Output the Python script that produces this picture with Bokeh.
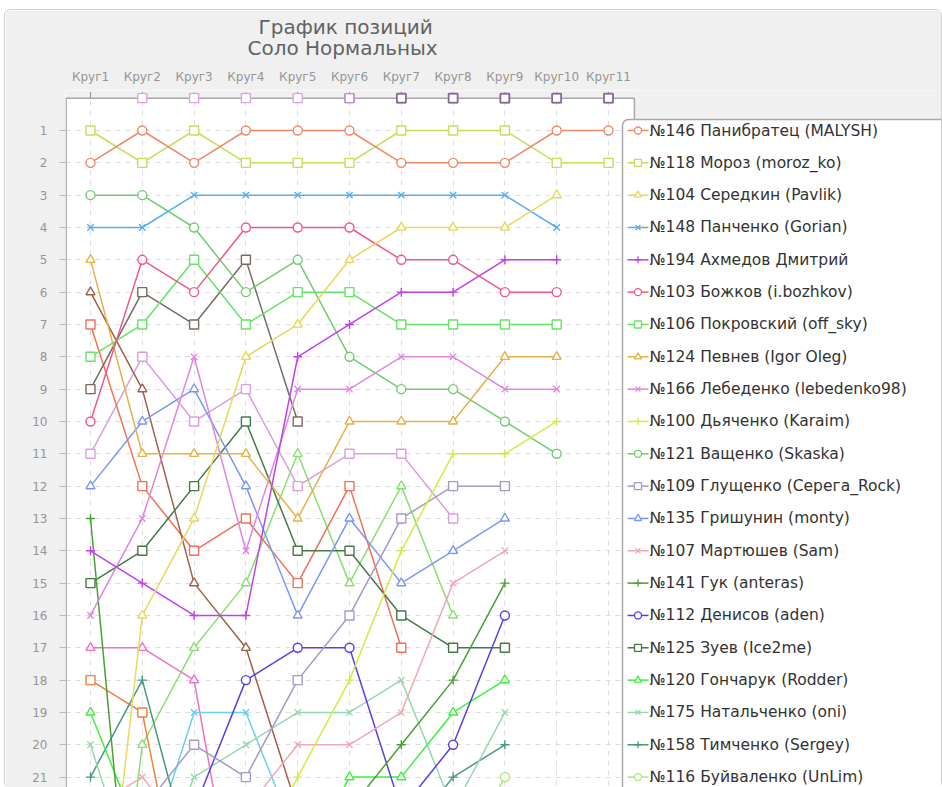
from bokeh.plotting import figure
from bokeh.models import Range1d, FixedTicker, Title
from bokeh.core.properties import value
from bokeh.embed import file_html
from bokeh.resources import INLINE

# ---------------- data ----------------
title_lines = ["График позиций", "Соло Нормальных"]
round_labels = ["Круг1", "Круг2", "Круг3", "Круг4", "Круг5", "Круг6",
                "Круг7", "Круг8", "Круг9", "Круг10", "Круг11"]
position_ticks = list(range(1, 22))

names = [
    "№146 Панибратец (MALYSH)", "№118 Мороз (moroz_ko)", "№104 Середкин (Pavlik)",
    "№148 Панченко (Gorian)", "№194 Ахмедов Дмитрий", "№103 Божков (i.bozhkov)",
    "№106 Покровский (off_sky)", "№124 Певнев (Igor Oleg)", "№166 Лебеденко (lebedenko98)",
    "№100 Дьяченко (Karaim)", "№121 Ващенко (Skaska)", "№109 Глущенко (Серега_Rock)",
    "№135 Гришунин (monty)", "№107 Мартюшев (Sam)", "№141 Гук (anteras)",
    "№112 Денисов (aden)", "№125 Зуев (Ice2me)", "№120 Гончарук (Rodder)",
    "№175 Натальченко (oni)", "№158 Тимченко (Sergey)", "№116 Буйваленко (UnLim)",
]
p146 = [2, 1, 2, 1, 1, 1, 2, 2, 2, 1, 1]
p118 = [1, 2, 1, 2, 2, 2, 1, 1, 1, 2, 2]
p104 = [30, 16, 13, 8, 7, 5, 4, 4, 4, 3]
p148 = [4, 4, 3, 3, 3, 3, 3, 3, 3, 4]
p194 = [14, 15, 16, 16, 8, 7, 6, 6, 5, 5]
p103 = [10, 5, 6, 4, 4, 4, 5, 5, 6, 6]
p106 = [8, 7, 5, 7, 6, 6, 7, 7, 7, 7]
p124 = [5, 11, 11, 11, 13, 10, 10, 10, 8, 8]
p166 = [16, 13, 8, 14, 9, 9, 8, 8, 9, 9]
p100 = [27, 26, 25, 24, 21, 18, 14, 11, 11, 10]
p121 = [3, 3, 4, 6, 5, 8, 9, 9, 10, 11]
p109 = [24, 22, 20, 21, 18, 16, 13, 12, 12]
p135 = [12, 10, 9, 12, 16, 13, 15, 14, 13]
p107 = [22, 21, 23, 22, 20, 20, 19, 15, 14]
p141 = [13, 30, 29, 27, 25, 22, 20, 18, 15]
p112 = [25, 24, 22, 18, 17, 17, 22, 20, 16]
p125 = [15, 14, 12, 10, 14, 14, 16, 17, 17]
p120 = [19, 23, 24, 25, 24, 21, 21, 19, 18]
p175 = [20, 25, 21, 20, 19, 19, 18, 22, 19]
p158 = [21, 18, 24, 25, 26, 24, 23, 21, 20]
p116 = [28, 27, 26, 26, 25, 25, 25, 24, 21]
legend_values = [p146, p118, p104, p148, p194, p103, p106, p124, p166, p100, p121,
                 p109, p135, p107, p141, p112, p125, p120, p175, p158, p116]
legend_colors = ["#f08868", "#c4de5c", "#e8d85c", "#58aef0", "#c040f0", "#f05888",
                 "#66e466", "#e8b048", "#e086e0", "#d6ea44", "#70cc70", "#a898c8",
                 "#7898f8", "#f0a8b8", "#48a038", "#5840e0", "#487848", "#40f040",
                 "#98d8b0", "#489880", "#a8e878"]
legend_markers = ["circle", "square", "triangle", "x", "cross"] * 4 + ["circle"]

# players further down the table (their legend rows are below the visible area)
ex_brown_sq = [9, 6, 7, 5, 10]
ex_brown_tri = [6, 9, 15, 17, 22]
ex_red_sq = [7, 12, 14, 13, 15, 12, 17]
ex_lilac_sq = [11, 8, 10, 9, 12, 11, 11, 13]
ex_cyan_x = [25, 24, 19, 19, 23]
ex_orange_sq = [18, 19, 27]
ex_pink_tri = [17, 17, 18, 27]
ex_green_tri = [33, 20, 17, 15, 11, 15, 12, 16]
extra_values = [ex_brown_sq, ex_brown_tri, ex_red_sq, ex_lilac_sq, ex_cyan_x,
                ex_orange_sq, ex_pink_tri, ex_green_tri]
extra_colors = ["#7a6a60", "#a0604a", "#f07058", "#d8a0e0", "#68d0f0",
                "#f08040", "#f070c8", "#88e070"]
extra_markers = ["square", "triangle", "square", "square", "x",
                 "square", "triangle", "triangle"]

# marks sitting on the top edge (position 0)
zero_rounds_light = [2, 3, 4, 5, 6, 7, 8, 9, 10, 11]
zero_rounds_mid = [6, 7, 8, 9, 10, 11]
zero_rounds_dark = [7, 8, 9, 10, 11]

# ---------------- layout ----------------
OFF_X, OFF_Y = 5, 10           # page offset of the gray panel
W, H = 942 - OFF_X - 1, 787 - OFF_Y
FRAME_L, FRAME_T = 65, 90      # page position of the plot box
LEFT, TOP = FRAME_L - OFF_X, FRAME_T - OFF_Y
PXX, PXY = 51.8, 32.33
X0 = 1 - (90 - FRAME_L) / PXX
X1 = X0 + (W - LEFT) / PXX
Y0 = 1 - (130 - FRAME_T) / PXY
Y1 = Y0 + (H - TOP) / PXY
X_BORDER = 11.5
LEG_LEFT, LEG_TOP = 11.27, 0.66
FONT = "DejaVu Sans"
GRAY_BG = "#f0f0f0"
BORDER = "#a8a8a8"

p = figure(width=W, height=H, x_range=Range1d(X0, X1), y_range=Range1d(Y1, Y0),
           x_axis_location="above", output_backend="svg", toolbar_location=None,
           min_border_left=LEFT, min_border_right=0, min_border_top=TOP,
           min_border_bottom=0)
p.margin = (OFF_Y, 0, 0, OFF_X)
p.styles = {"outline": "1px solid #d0d0d0", "border-radius": "5px"}
p.outline_line_color = None
p.border_fill_color = GRAY_BG
p.background_fill_color = "white"

xt = FixedTicker(ticks=list(range(1, 12)))
yt = FixedTicker(ticks=position_ticks)
xa = p.xaxis[0]
xa.ticker = xt
xa.major_label_overrides = {i + 1: lab for i, lab in enumerate(round_labels)}
xa.axis_line_color = None
xa.major_tick_line_color = None
xa.minor_tick_line_color = None
xa.major_tick_out = 0
xa.major_tick_in = 0
xa.major_label_standoff = 7
xa.major_label_text_font = FONT
xa.major_label_text_font_size = "12px"
xa.major_label_text_color = "#959595"

ya = p.yaxis[0]
ya.ticker = yt
ya.axis_line_color = None
ya.minor_tick_line_color = None
ya.major_tick_in = 0
ya.major_tick_out = 6
ya.major_tick_line_color = "#b8b8b8"
ya.major_label_standoff = 12
ya.major_label_text_font = FONT
ya.major_label_text_font_size = "12px"
ya.major_label_text_color = "#959595"

for g, t in ((p.xgrid[0], xt), (p.ygrid[0], yt)):
    g.ticker = t
    g.grid_line_color = "#dcdcdc"
    g.grid_line_dash = "5 5"
    g.grid_line_width = 1

# title: two lines, centred over the plot box
frame_cx = 345 - FRAME_L
w1, w2 = 174, 196
t2 = Title(text=title_lines[1], align="left", offset=frame_cx - w2 / 2,
           text_font=FONT, text_font_size="20px", text_font_style="normal",
           text_color="#626262", standoff=13)
t1 = Title(text=title_lines[0], align="left", offset=frame_cx - w1 / 2,
           text_font=FONT, text_font_size="20px", text_font_style="normal",
           text_color="#626262", standoff=-22)
p.title = None
p.add_layout(t2, "above")
p.add_layout(t1, "above")

# gray strip above the top edge and right of the plot box
p.quad(left=X0, right=X1, top=Y0, bottom=0, fill_color=GRAY_BG, line_color=None)
p.quad(left=X_BORDER, right=X1, top=Y0, bottom=LEG_TOP, fill_color=GRAY_BG, line_color=None)

# series
all_vals = extra_values[::-1] + legend_values[::-1]
all_cols = extra_colors[::-1] + legend_colors[::-1]
all_mk = extra_markers[::-1] + legend_markers[::-1]
for vals, col, mk in zip(all_vals, all_cols, all_mk):
    xs = list(range(1, len(vals) + 1))
    p.line(xs, vals, line_color=col, line_width=1.5)
    p.scatter(xs, vals, marker=mk, size=9, line_color=col, line_width=1.4,
              fill_color="white")

# plot box borders
p.line([X0, X_BORDER], [0, 0], line_color=BORDER, line_width=1.5)
p.line([X_BORDER, X_BORDER], [0, LEG_TOP], line_color=BORDER, line_width=1.5)
p.line([X0 + 0.012, X0 + 0.012], [0, Y1], line_color=BORDER, line_width=1.5)
p.segment(x0=list(range(1, 12)), y0=[0] * 11, x1=list(range(1, 12)), y1=[-0.19] * 11,
          line_color="#909090", line_width=1)

# marks on the top edge
p.scatter(zero_rounds_light, [0] * len(zero_rounds_light), marker="square", size=9,
          line_color="#e0a0e4", line_width=1.4, fill_color="white")
p.scatter(zero_rounds_mid, [0] * len(zero_rounds_mid), marker="square", size=9,
          line_color="#b890cc", line_width=1.4, fill_color=None)
p.scatter(zero_rounds_dark, [0] * len(zero_rounds_dark), marker="square", size=9,
          line_color="#8a6a94", line_width=1.6, fill_color=None)

# legend box (drawn by hand so rows align with positions)
p.quad(left=LEG_LEFT, right=X1 + 1, top=LEG_TOP, bottom=Y1 + 1, fill_color="white",
       line_color=BORDER, line_width=1.5, border_radius=6)
ly = list(range(1, len(names) + 1))
gx0 = 1 + (627 - 90) / PXX
gx1 = 1 + (648 - 90) / PXX
gxm = 1 + (637.5 - 90) / PXX
tx = 1 + (649 - 90) / PXX
p.segment(x0=[gx0] * len(ly), y0=ly, x1=[gx1] * len(ly), y1=ly,
          line_color=legend_colors, line_width=1.5)
for yv, col, mk in zip(ly, legend_colors, legend_markers):
    p.scatter([gxm], [yv], marker=mk, size=7, line_color=col, line_width=1.3,
              fill_color="white")
p.text(x=[tx] * len(ly), y=ly, text=names, text_font=value(FONT),
       text_font_size="15.5px", text_color="#333333", text_baseline="middle",
       text_align="left")

open("out.html", "w").write(file_html(p, INLINE))
